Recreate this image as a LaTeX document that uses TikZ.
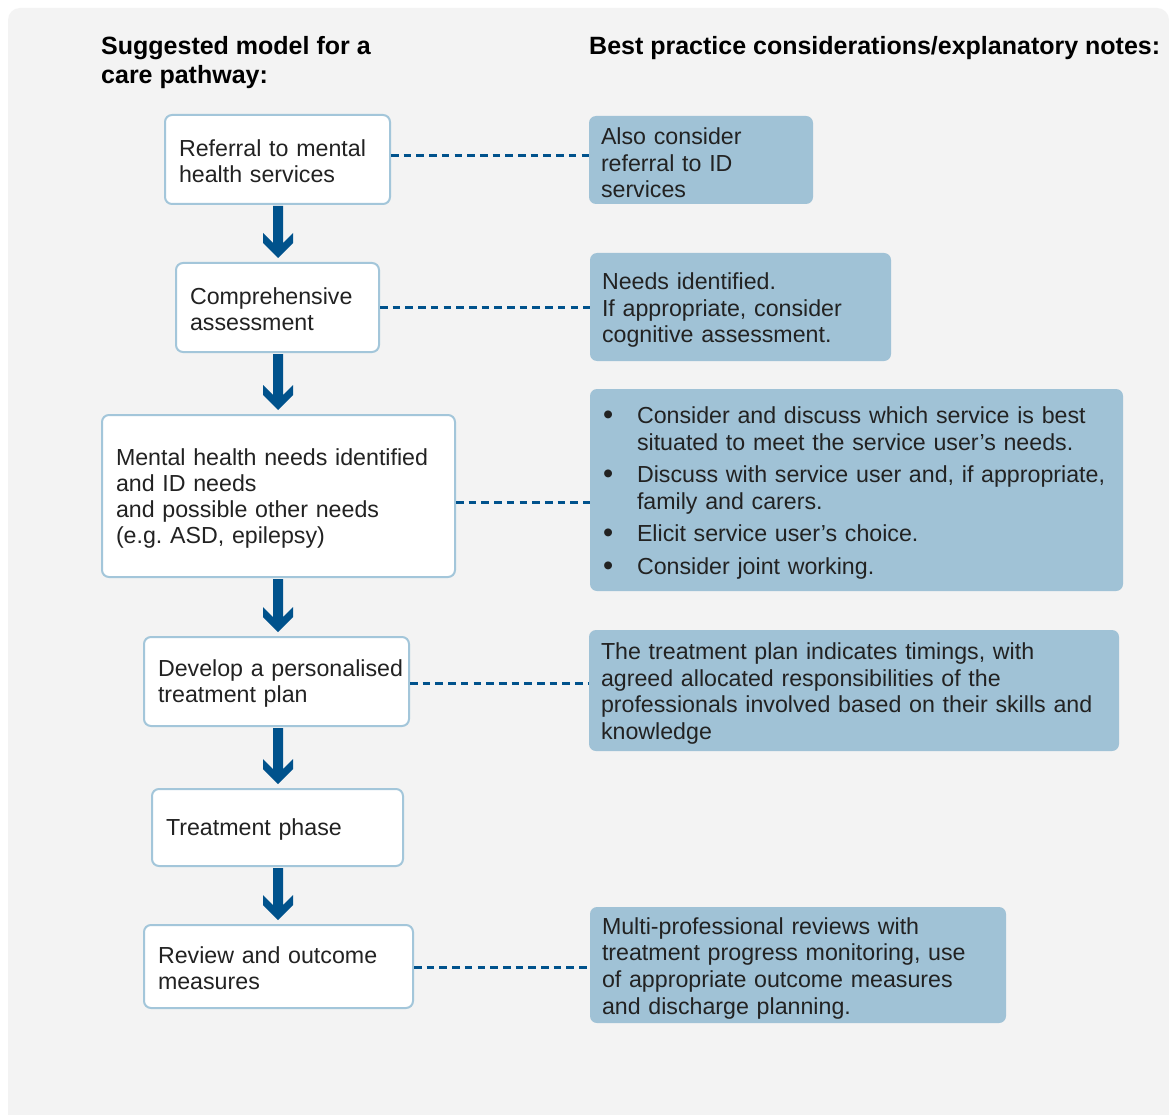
\documentclass[tikz,border=0pt]{standalone}
\usepackage{fontspec}
\setmainfont{Liberation Sans}
\usetikzlibrary{calc}
\definecolor{bgc}{HTML}{F3F3F3}
\definecolor{arrc}{HTML}{00528C}
\definecolor{edgec}{HTML}{A3C6DA}
\definecolor{notec}{HTML}{A0C2D6}
\definecolor{txtc}{HTML}{222222}
\frenchspacing
\newcommand{\bul}{\makebox[35pt][l]{\hspace{1pt}\raisebox{-0.5pt}{\fontsize{29}{29}\selectfont •}}}
\begin{document}
\begin{tikzpicture}[x=1pt,y=-1pt,
  stepnode/.style={draw=edgec, line width=2pt, fill=white, rounded corners=7pt,
    inner xsep=14pt, inner ysep=0pt, align=left, text=txtc,
    font=\fontsize{23.2}{26}\selectfont,
    execute at begin node={\hyphenpenalty=10000\rule{0pt}{21pt}}},
  notenode/.style={fill=notec, rounded corners=7pt, inner xsep=12pt, inner ysep=0pt,
    align=left, text=txtc, font=\fontsize{23.2}{26.6}\selectfont,
    execute at begin node={\hyphenpenalty=10000\rule{0pt}{23pt}}},
  headnode/.style={font=\bfseries\fontsize{25}{28.5}\selectfont, align=left,
    inner sep=0pt, text=black},
  dashline/.style={draw=arrc, line width=3pt, dash pattern=on 7.6pt off 5.1pt},
  bigarrow/.style={fill=arrc}]
\useasboundingbox (0,0) rectangle (1169,1115);
\fill[white] (0,0) rectangle (1169,1115);
\fill[bgc] (8,1115) [rounded corners=12pt] -- (8,8) -- (1169,8) [sharp corners] -- (1169,1115) -- cycle;

% headings
\node[headnode, anchor=base west] (h1) at (101,83.5) {Suggested model for a\\care pathway:};
\node[headnode, anchor=base west] (h2) at (589,55) {Best practice considerations/explanatory notes:};

% left steps
\node[stepnode, text width=197pt, minimum height=89pt] (l1) at (277.5,159.5) {Referral to mental\\health services};
\node[stepnode, text width=175pt, minimum height=89pt] (l2) at (277.5,307.5) {Comprehensive\\assessment};
\node[stepnode, text width=325pt, minimum height=162pt] (l3) at (278.5,496) {\mbox{Mental health needs identified}\\and ID needs\\and possible other needs\\(e.g. ASD, epilepsy)};
\node[stepnode, text width=237pt, minimum height=89pt] (l4) at (276.5,681.5) {\mbox{Develop a personalised}\\treatment plan};
\node[stepnode, text width=223pt, minimum height=77pt] (l5) at (277.5,827.5) {Treatment phase};
\node[stepnode, text width=241pt, minimum height=83pt] (l6) at (278.5,966.5) {\mbox{Review and outcome}\\measures};

% notes
\node[notenode, text width=200pt, minimum height=88pt] (r1) at (701,160) {Also consider\\referral to ID\\services};
\node[notenode, text width=277pt, minimum height=108pt] (r2) at (740.5,307) {Needs identified.\\\mbox{If appropriate, consider}\\\mbox{cognitive assessment.}};
\node[notenode, text width=509pt, minimum height=202pt] (r3) at (856.5,490) {%
\bul\mbox{Consider and discuss which service is best}\\
\hspace*{35pt}\mbox{situated to meet the service user’s needs.}\\[6pt]
\bul\mbox{Discuss with service user and, if appropriate,}\\
\hspace*{35pt}\mbox{family and carers.}\\[6pt]
\bul\mbox{Elicit service user’s choice.}\\[6pt]
\bul\mbox{Consider joint working.}};
\node[notenode, text width=506pt, minimum height=121pt] (r4) at (854,690.5) {\mbox{The treatment plan indicates timings, with}\\\mbox{agreed allocated responsibilities of the}\\\mbox{professionals involved based on their skills and}\\knowledge};
\node[notenode, text width=392pt, minimum height=116pt] (r5) at (798,965) {\mbox{Multi-professional reviews with}\\\mbox{treatment progress monitoring, use}\\\mbox{of appropriate outcome measures}\\\mbox{and discharge planning.}};

% dashed connectors
\coordinate (d1) at (0,156);
\coordinate (d2) at (0,307);
\coordinate (d3) at (0,502);
\coordinate (d4) at (0,683);
\coordinate (d5) at (0,967);
\draw[dashline] (l1.east |- d1) -- (r1.west |- d1);
\draw[dashline] (l2.east |- d2) -- (r2.west |- d2);
\draw[dashline] (l3.east |- d3) -- (r3.west |- d3);
\draw[dashline] (l4.east |- d4) -- (r4.west |- d4);
\draw[dashline] (l6.east |- d5) -- (r5.west |- d5);

% flow arrows
\foreach \a/\b in {l1/l2, l2/l3, l3/l4, l4/l5, l5/l6}{
  \fill[bigarrow] let \p1=(\a.south), \p2=(\b.north) in
    (278pt-5pt,\y1-1pt) -- (278pt-5pt,\y2+19pt) -- (278pt-15pt,\y2+29pt) -- (278pt-15pt,\y2+19pt)
    -- (278pt,\y2+4pt) -- (278pt+15pt,\y2+19pt) -- (278pt+15pt,\y2+29pt) -- (278pt+5pt,\y2+19pt)
    -- (278pt+5pt,\y1-1pt) -- cycle;
}
\end{tikzpicture}
\end{document}
